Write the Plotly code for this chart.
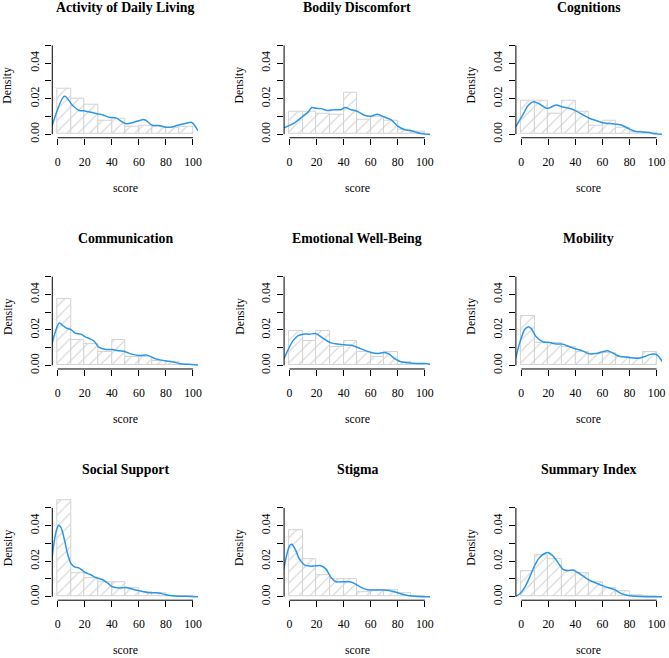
import plotly.graph_objects as go

# ---------------- data ----------------
panel_titles = ["Activity of Daily Living", "Bodily Discomfort", "Cognitions",
                "Communication", "Emotional Well-Being", "Mobility",
                "Social Support", "Stigma", "Summary Index"]

bin_edges = [0, 10, 20, 30, 40, 50, 60, 70, 80, 90, 100]

adl_hist = [0.0254, 0.0200, 0.0164, 0.0077, 0.0086, 0.0043, 0.0050, 0.0043, 0.0036, 0.0043]
bd_hist = [0.0125, 0.0125, 0.0118, 0.0108, 0.0232, 0.0080, 0.0101, 0.0077, 0.0026, 0.0013]
cog_hist = [0.0190, 0.0190, 0.0114, 0.0187, 0.0129, 0.0047, 0.0073, 0.0037, 0.0015, 0.0008]
com_hist = [0.0374, 0.0144, 0.0121, 0.0077, 0.0142, 0.0047, 0.0047, 0.0026, 0.0017, 0.0000]
ewb_hist = [0.0196, 0.0140, 0.0196, 0.0103, 0.0140, 0.0075, 0.0049, 0.0077, 0.0017, 0.0011]
mob_hist = [0.0280, 0.0129, 0.0129, 0.0103, 0.0077, 0.0065, 0.0071, 0.0049, 0.0041, 0.0075]
ss_hist = [0.0544, 0.0131, 0.0103, 0.0080, 0.0084, 0.0047, 0.0024, 0.0019, 0.0004, 0.0000]
stig_hist = [0.0374, 0.0211, 0.0120, 0.0101, 0.0097, 0.0026, 0.0039, 0.0039, 0.0019, 0.0000]
sum_hist = [0.0144, 0.0234, 0.0209, 0.0150, 0.0131, 0.0084, 0.0050, 0.0032, 0.0009, 0.0000]

adl_dx = [-4.2, 5.1, 11.2, 16, 20, 24.7, 28.4, 33, 38, 43, 50, 55, 62.6, 65, 70, 74.8, 80, 84.6, 89.5, 94.4, 98.8, 103.7]
adl_dy = [0.0045, 0.0213, 0.0160, 0.0133, 0.0131, 0.0123, 0.0116, 0.0110, 0.0095, 0.0092, 0.0060, 0.0064, 0.0082, 0.0079, 0.0050, 0.0049, 0.0039, 0.0041, 0.0052, 0.0060, 0.0067, 0.0020]

bd_dx = [-4.2, 3.7, 9.8, 13.5, 16.5, 19.7, 23.3, 28.3, 33.2, 38, 41, 45.5, 50, 55.3, 60.2, 65, 70, 75, 80, 84.8, 91, 97, 104]
bd_dy = [0.0036, 0.0064, 0.0101, 0.0123, 0.0150, 0.0146, 0.0144, 0.0133, 0.0138, 0.0138, 0.0150, 0.0138, 0.0129, 0.0107, 0.0101, 0.0112, 0.0097, 0.0082, 0.0045, 0.0026, 0.0017, 0.0004, 0.0000]

cog_dx = [-4.2, 1.2, 4.9, 9, 13.5, 18.4, 20.8, 25.7, 30.6, 35.5, 40.4, 45.3, 50.2, 55.1, 60, 65, 69.9, 74.8, 79.7, 84.6, 89.5, 94.4, 99.3, 104]
cog_dy = [0.0041, 0.0110, 0.0160, 0.0183, 0.0170, 0.0146, 0.0148, 0.0164, 0.0153, 0.0146, 0.0131, 0.0110, 0.0090, 0.0077, 0.0065, 0.0060, 0.0056, 0.0049, 0.0030, 0.0015, 0.0013, 0.0009, 0.0002, 0.0000]

com_dx = [-4.4, -2.5, 0, 1.2, 3.7, 6.1, 9.8, 13, 17.2, 20.3, 24.5, 27, 30.6, 35.5, 40.4, 45.3, 49, 53.9, 60, 66.2, 72.3, 79.7, 84.6, 90.7, 96.8, 103.7]
com_dy = [0.0114, 0.0170, 0.0226, 0.0239, 0.0226, 0.0211, 0.0202, 0.0181, 0.0176, 0.0161, 0.0148, 0.0136, 0.0101, 0.0090, 0.0090, 0.0082, 0.0080, 0.0065, 0.0056, 0.0058, 0.0037, 0.0026, 0.0021, 0.0009, 0.0006, 0.0002]

ewb_dx = [-4.2, -1.2, 2.5, 6.1, 9.8, 14.7, 19.7, 23.3, 27, 30.7, 35.6, 40.5, 45.5, 50.4, 55.3, 60.2, 65.1, 70, 73.7, 77.4, 82.3, 87.2, 94.6, 99.5, 104]
ewb_dy = [0.0036, 0.0086, 0.0138, 0.0166, 0.0176, 0.0176, 0.0179, 0.0161, 0.0142, 0.0127, 0.0120, 0.0116, 0.0114, 0.0101, 0.0086, 0.0073, 0.0067, 0.0073, 0.0064, 0.0039, 0.0021, 0.0015, 0.0011, 0.0011, 0.0006]

mob_dx = [-4.2, -1.2, 2.5, 4.9, 7.4, 11, 15.9, 20.8, 25.7, 30.6, 35.5, 40.4, 45.3, 50.2, 55.1, 60, 63.7, 67.4, 72.3, 79.7, 87, 91.9, 96.8, 100.5, 104.2]
mob_dy = [0.0039, 0.0127, 0.0202, 0.0217, 0.0207, 0.0161, 0.0133, 0.0129, 0.0121, 0.0120, 0.0105, 0.0092, 0.0082, 0.0065, 0.0067, 0.0077, 0.0082, 0.0071, 0.0052, 0.0045, 0.0041, 0.0052, 0.0064, 0.0058, 0.0021]

ss_dx = [-4.4, -2.5, -0.7, 0.7, 2.5, 4.9, 7.4, 9.8, 12.3, 15.9, 20.3, 24.5, 28.2, 33.1, 36.8, 40.4, 45.3, 50.2, 55.1, 60, 67.4, 74.8, 79.7, 87, 94.4, 103.7]
ss_dy = [0.0202, 0.0314, 0.0379, 0.0402, 0.0389, 0.0323, 0.0239, 0.0187, 0.0168, 0.0161, 0.0136, 0.0123, 0.0108, 0.0095, 0.0077, 0.0056, 0.0049, 0.0052, 0.0043, 0.0034, 0.0022, 0.0021, 0.0011, 0.0004, 0.0002, 0.0000]

stig_dx = [-4.2, -2.5, 0, 1.7, 4.2, 7.4, 11, 14.7, 19.7, 23.3, 27, 30.7, 34.4, 39.3, 44.2, 47.9, 52.8, 57.7, 62.7, 70, 77.4, 84.8, 92.1, 100, 104]
stig_dy = [0.0155, 0.0220, 0.0286, 0.0295, 0.0267, 0.0211, 0.0179, 0.0172, 0.0174, 0.0174, 0.0155, 0.0108, 0.0084, 0.0084, 0.0084, 0.0075, 0.0052, 0.0039, 0.0037, 0.0037, 0.0028, 0.0011, 0.0002, 0.0000, 0.0000]

sum_dx = [-4.2, -1.2, 2.5, 6.1, 9.8, 13.5, 17.2, 19.6, 23.3, 27, 30.6, 34.3, 38, 41.7, 45.3, 50.2, 55.1, 60, 65, 68.6, 72.3, 77.2, 84.6, 94.4, 104]
sum_dy = [0.0002, 0.0015, 0.0052, 0.0108, 0.0174, 0.0220, 0.0243, 0.0249, 0.0230, 0.0193, 0.0155, 0.0146, 0.0150, 0.0136, 0.0118, 0.0093, 0.0077, 0.0062, 0.0049, 0.0041, 0.0024, 0.0009, 0.0002, 0.0000, 0.0000]

hists = [adl_hist, bd_hist, cog_hist, com_hist, ewb_hist, mob_hist, ss_hist, stig_hist, sum_hist]
curves_x = [adl_dx, bd_dx, cog_dx, com_dx, ewb_dx, mob_dx, ss_dx, stig_dx, sum_dx]
curves_y = [adl_dy, bd_dy, cog_dy, com_dy, ewb_dy, mob_dy, ss_dy, stig_dy, sum_dy]

x_tick_vals = [0, 20, 40, 60, 80, 100]
x_tick_text = ["0", "20", "40", "60", "80", "100"]
y_tick_vals = [0, 0.01, 0.02, 0.03, 0.04, 0.05]
y_tick_text = ["0.00", "", "0.02", "", "0.04", ""]
x_label = "score"
y_label = "Density"

# ---------------- layout ----------------
W, H = 669, 658
FONT = "Liberation Serif, Times New Roman, serif"
X_RANGE = [-4.0, 104.0]
Y_RANGE = [-0.002, 0.056]
COL_STEP, ROW_STEP = 233.2, 233.0
PLOT_LEFT0, PLOT_W = 52.6, 147.0
PLOT_BOTTOM0, PLOT_H = 138.8, 103.8
BAR_COLOR = "#d3d3d3"
LINE_COLOR = "#2b97e8"

fig = go.Figure()
shapes, annotations = [], []


def px_to_paper_x(px):
    return px / W


def px_to_paper_y(py):
    return 1 - py / H


for i in range(9):
    r, c = divmod(i, 3)
    left = PLOT_LEFT0 + c * COL_STEP
    right = left + PLOT_W
    bottom = PLOT_BOTTOM0 + r * ROW_STEP
    top = bottom - PLOT_H
    xd = [px_to_paper_x(left), px_to_paper_x(right)]
    yd = [px_to_paper_y(bottom), px_to_paper_y(top)]
    sfx = "" if i == 0 else str(i + 1)
    xa, ya = "x" + sfx, "y" + sfx

    centers = [(a + b) / 2 for a, b in zip(bin_edges[:-1], bin_edges[1:])]
    widths = [b - a for a, b in zip(bin_edges[:-1], bin_edges[1:])]
    fig.add_trace(go.Bar(
        x=centers, y=hists[i], width=widths, xaxis=xa, yaxis=ya,
        marker=dict(color="white", line=dict(color=BAR_COLOR, width=1),
                    pattern=dict(shape="/", fgcolor=BAR_COLOR, bgcolor="white",
                                 size=8, solidity=0.14, fillmode="replace")),
        showlegend=False, hoverinfo="skip"))
    fig.add_trace(go.Scatter(
        x=curves_x[i], y=curves_y[i], xaxis=xa, yaxis=ya, mode="lines",
        line=dict(color=LINE_COLOR, width=1.5, shape="spline", smoothing=0.8),
        showlegend=False, hoverinfo="skip"))

    axis_common = dict(showgrid=False, zeroline=False, showline=False,
                       ticks="outside", ticklen=6, tickwidth=1, tickcolor="black",
                       tickfont=dict(family=FONT, size=11.8, color="black"),
                       fixedrange=True)
    fig.layout["xaxis" + sfx] = dict(domain=xd, range=X_RANGE, anchor=ya,
                                      tickvals=x_tick_vals, ticktext=x_tick_text,
                                      ticklabelstandoff=7, **axis_common)
    fig.layout["yaxis" + sfx] = dict(domain=yd, range=Y_RANGE, anchor=xa,
                                      tickvals=y_tick_vals, ticktext=y_tick_text,
                                      tickangle=-90, ticklabelstandoff=2, **axis_common)

    # axis lines (R style: only spanning the tick range)
    def xp(v):
        return xd[0] + (v - X_RANGE[0]) / (X_RANGE[1] - X_RANGE[0]) * (xd[1] - xd[0])

    def yp(v):
        return yd[0] + (v - Y_RANGE[0]) / (Y_RANGE[1] - Y_RANGE[0]) * (yd[1] - yd[0])

    shapes.append(dict(type="line", xref="paper", yref="paper",
                       x0=xp(x_tick_vals[0]), x1=xp(x_tick_vals[-1]), y0=yd[0], y1=yd[0],
                       line=dict(color="black", width=1)))
    shapes.append(dict(type="line", xref="paper", yref="paper",
                       x0=xd[0], x1=xd[0], y0=yp(y_tick_vals[0]), y1=yp(y_tick_vals[-1]),
                       line=dict(color="black", width=1)))

    cx = (xd[0] + xd[1]) / 2
    annotations.append(dict(text="<b>" + panel_titles[i] + "</b>", xref="paper", yref="paper",
                            x=cx, y=px_to_paper_y(7.5 + r * ROW_STEP), showarrow=False,
                            xanchor="center", yanchor="middle",
                            font=dict(family=FONT, size=13.8, color="black")))
    annotations.append(dict(text=x_label, xref="paper", yref="paper",
                            x=cx, y=px_to_paper_y(189 + r * ROW_STEP), showarrow=False,
                            xanchor="center", yanchor="middle",
                            font=dict(family=FONT, size=11.8, color="black")))
    annotations.append(dict(text=y_label, xref="paper", yref="paper", textangle=-90,
                            x=px_to_paper_x(7.5 + c * COL_STEP),
                            y=px_to_paper_y(86 + r * ROW_STEP), showarrow=False,
                            xanchor="center", yanchor="middle",
                            font=dict(family=FONT, size=11.8, color="black")))

fig.update_layout(width=W, height=H, margin=dict(l=0, r=0, t=0, b=0),
                  paper_bgcolor="white", plot_bgcolor="white",
                  barmode="overlay", bargap=0,
                  shapes=shapes, annotations=annotations,
                  font=dict(family=FONT, color="black"))

fig.write_html("out.html")
